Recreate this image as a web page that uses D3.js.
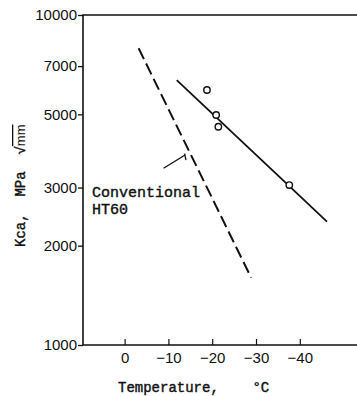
<!DOCTYPE html>
<html>
<head>
<meta charset="utf-8">
<script src="https://cdn.jsdelivr.net/npm/d3@7"></script>
<style>
  html, body { margin: 0; padding: 0; background: #fff; }
  svg { display: block; }
  .mono { font-family: "Liberation Mono", "DejaVu Sans Mono", monospace; stroke: #111; stroke-width: 0.4; }
  .tick text { font-family: "Liberation Sans", Arial, sans-serif; font-size: 15px; fill: #111; }
</style>
</head>
<body>
<div id="chart"></div>
<script>
// K-ca arrest toughness vs temperature (log scale)
var yTicks = [1000, 2000, 3000, 5000, 7000, 10000];
var xTicks = [0, -10, -20, -30, -40];

// new steel: fitted line and test points
var newLineTemp = [-11.9, -46.2];
var newLineKca = [6350, 2364];
var pointTemp = [-18.8, -20.9, -21.4, -37.6];
var pointKca = [5925, 4977, 4586, 3053];

// conventional HT60 (dashed)
var convTemp = [-3.2, -28.9];
var convKca = [7927, 1599];

// leader from label to dashed line, plus its small end stub
var leaderTemp = [-8.9, -13.8];
var leaderKca = [3432, 3766];
var stubTemp = [-13.7, -14.0];
var stubKca = [3800, 3630];

var width = 357, height = 396;
var mLeft = 83, mRight = 357, mTop = 15, mBottom = 345;

var svg = d3.select("#chart").append("svg")
    .attr("width", width)
    .attr("height", height);

var x = d3.scaleLinear().domain([9.5, -53.5]).range([mLeft, mLeft + 63 * 4.38]);
var y = d3.scaleLog().domain([1000, 10000]).range([mBottom, mTop]);

// left axis
var yAxis = d3.axisLeft(y)
    .tickValues(yTicks)
    .tickFormat(d3.format("d"))
    .tickSizeInner(5)
    .tickSizeOuter(0)
    .tickPadding(1);
var yg = svg.append("g")
    .attr("transform", "translate(" + mLeft + ",0)")
    .call(yAxis);
yg.select(".domain").remove();
yg.selectAll("line").attr("stroke", "#111").attr("stroke-width", 1.3);

// bottom axis, ticks point inward
var xAxis = d3.axisBottom(x)
    .tickValues(xTicks)
    .tickFormat(d3.format("d"))
    .tickSizeInner(-6)
    .tickSizeOuter(0);
var xg = svg.append("g")
    .attr("transform", "translate(0," + mBottom + ")")
    .call(xAxis);
xg.select(".domain").remove();
xg.selectAll("line").attr("stroke", "#111").attr("stroke-width", 1.2);
xg.selectAll("text").attr("y", 18).attr("dy", null);

// frame: left, top, bottom
var frame = [[mRight, mTop], [mLeft, mTop], [mLeft, mBottom], [mRight, mBottom]];
svg.append("path")
    .attr("d", d3.line()(frame))
    .attr("fill", "none")
    .attr("stroke", "#111")
    .attr("stroke-width", 1.6);

var line = d3.line()
    .x(d => x(d[0]))
    .y(d => y(d[1]));

svg.append("path")
    .attr("d", line(convTemp.map((t, i) => [t, convKca[i]])))
    .attr("fill", "none")
    .attr("stroke", "#111")
    .attr("stroke-width", 2)
    .attr("stroke-dasharray", "12,5");

svg.append("path")
    .attr("d", line(newLineTemp.map((t, i) => [t, newLineKca[i]])))
    .attr("fill", "none")
    .attr("stroke", "#111")
    .attr("stroke-width", 1.8);

svg.selectAll("circle.pt")
    .data(pointTemp.map((t, i) => [t, pointKca[i]]))
    .enter()
    .append("circle")
    .attr("class", "pt")
    .attr("cx", d => x(d[0]))
    .attr("cy", d => y(d[1]))
    .attr("r", 3.2)
    .attr("fill", "#fff")
    .attr("stroke", "#111")
    .attr("stroke-width", 1.4);

svg.append("path")
    .attr("d", line(leaderTemp.map((t, i) => [t, leaderKca[i]])))
    .attr("fill", "none")
    .attr("stroke", "#111")
    .attr("stroke-width", 1.3);
svg.append("path")
    .attr("d", line(stubTemp.map((t, i) => [t, stubKca[i]])))
    .attr("fill", "none")
    .attr("stroke", "#111")
    .attr("stroke-width", 1.3);

// labels
svg.append("text")
    .attr("class", "mono")
    .attr("x", 92)
    .attr("y", 197)
    .attr("font-size", 15)
    .attr("fill", "#111")
    .text("Conventional");
svg.append("text")
    .attr("class", "mono")
    .attr("x", 92)
    .attr("y", 214)
    .attr("font-size", 15)
    .attr("fill", "#111")
    .text("HT60");

svg.append("text")
    .attr("class", "mono")
    .attr("x", 118)
    .attr("y", 392)
    .attr("font-size", 14)
    .attr("fill", "#111")
    .style("white-space", "pre")
    .text("Temperature,    °C");

var ylab = svg.append("text")
    .attr("class", "mono")
    .attr("transform", "translate(25,247) rotate(-90)")
    .attr("font-size", 14)
    .attr("fill", "#111")
    .style("white-space", "pre");
ylab.append("tspan").text("Kca,  MPa  √");
ylab.append("tspan")
    .attr("font-family", "Liberation Sans, sans-serif")
    .attr("font-size", 13)
    .style("stroke-width", 0)
    .style("text-decoration", "overline")
    .text("mm");
</script>
</body>
</html>
